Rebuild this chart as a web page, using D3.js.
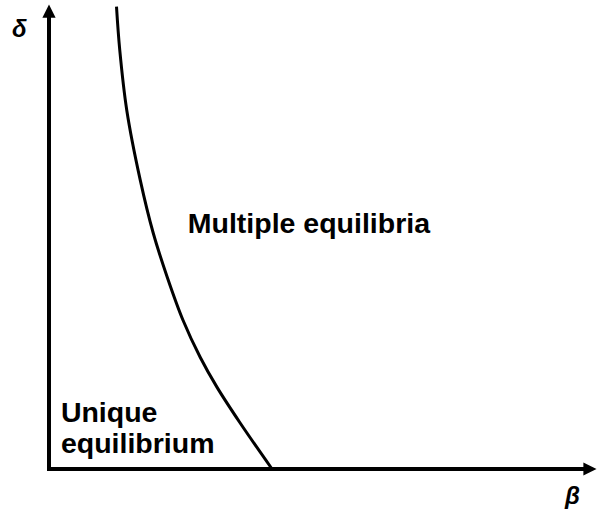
<!DOCTYPE html>
<html>
<head>
    <meta charset="utf-8">
    <title>Equilibria regions</title>
    <style>
        body { margin: 0; background: #fff; }
        text {
            font-family: "Liberation Sans", Arial, sans-serif;
            font-weight: bold;
            fill: #000;
        }
    </style>
</head>
<body>
    <svg width="597" height="514"></svg>
    <script src="https://d3js.org/d3.v7.min.js"></script>
    <script>
    // boundary curve, beta vs delta (arbitrary units 0..100)
    var betaVals  = [12.5, 13.1, 14.4, 16.9, 19.3, 21.9, 24.8, 28.0, 31.1, 35.4, 41.3];
    var deltaVals = [100.5, 91.1, 78.0, 62.8, 51.3, 41.7, 32.4, 24.3, 17.8, 10.0, 0];

    var regionLabels = [
        { lines: ["Multiple equilibria"], beta: 25.7, delta: 51.3 },
        { lines: ["Unique", "equilibrium"], beta: 2.2, delta: 10.2 }
    ];

    var svg = d3.select("svg");

    var x = d3.scaleLinear().domain([0, 100]).range([49, 589]);
    var y = d3.scaleLinear().domain([0, 100]).range([469, 9]);

    var defs = svg.append("defs");
    defs.append("marker")
        .attr("id", "arrow")
        .attr("viewBox", "0 0 10 10")
        .attr("refX", 2)
        .attr("refY", 5)
        .attr("markerWidth", 3.3)
        .attr("markerHeight", 3.3)
        .attr("orient", "auto")
      .append("path")
        .attr("d", "M0,0 L10,5 L0,10 z")
        .attr("fill", "#000");

    // axes
    svg.append("line")
        .attr("x1", x(0)).attr("y1", y(0) + 2)
        .attr("x2", x(0)).attr("y2", y(100) + 6)
        .attr("stroke", "#000").attr("stroke-width", 4)
        .attr("marker-end", "url(#arrow)");
    svg.append("line")
        .attr("x1", x(0) - 2).attr("y1", y(0))
        .attr("x2", x(100) - 3).attr("y2", y(0))
        .attr("stroke", "#000").attr("stroke-width", 4)
        .attr("marker-end", "url(#arrow)");

    // boundary curve
    var pts = betaVals.map(function(b, i) { return [b, deltaVals[i]]; });
    var line = d3.line()
        .x(function(d) { return x(d[0]); })
        .y(function(d) { return y(d[1]); })
        .curve(d3.curveCatmullRom);
    svg.append("path")
        .datum(pts)
        .attr("d", line)
        .attr("fill", "none")
        .attr("stroke", "#000")
        .attr("stroke-width", 3);

    // region labels
    regionLabels.forEach(function(r) {
        var t = svg.append("text")
            .attr("x", x(r.beta))
            .attr("y", y(r.delta))
            .style("font-size", "28.5px");
        r.lines.forEach(function(s, i) {
            t.append("tspan")
                .attr("x", x(r.beta))
                .attr("dy", i === 0 ? 0 : 31)
                .text(s);
        });
    });

    // axis symbols
    svg.append("text")
        .attr("x", 12).attr("y", 37)
        .style("font-size", "24px").style("font-style", "italic")
        .text("δ");
    svg.append("text")
        .attr("x", 565).attr("y", 504)
        .style("font-size", "24px").style("font-style", "italic")
        .text("β");
    </script>
</body>
</html>
